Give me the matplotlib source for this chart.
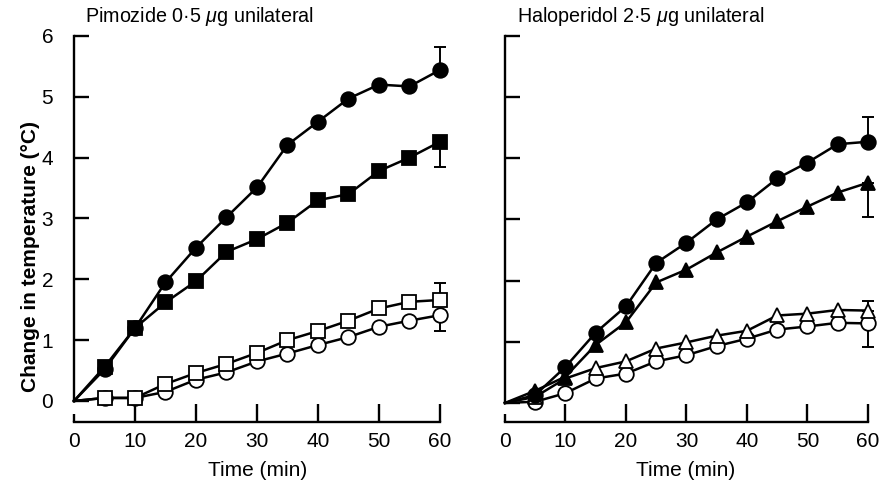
import matplotlib
matplotlib.use("Agg")
import matplotlib.pyplot as plt

plt.rcParams['font.family'] = ['Liberation Sans', 'DejaVu Sans']
plt.rcParams['mathtext.fontset'] = 'custom'
plt.rcParams['mathtext.rm'] = 'Liberation Sans'
plt.rcParams['mathtext.it'] = 'Liberation Sans:italic'

# ---- data ----
time = [0, 5, 10, 15, 20, 25, 30, 35, 40, 45, 50, 55, 60]
x_ticks = [0, 10, 20, 30, 40, 50, 60]
y_ticks = [0, 1, 2, 3, 4, 5, 6]

# Pimozide panel
pim_filled_circle = [0, 0.52, 1.20, 1.95, 2.52, 3.02, 3.51, 4.21, 4.59, 4.97, 5.20, 5.17, 5.44]
pim_filled_square = [0, 0.56, 1.20, 1.62, 1.97, 2.45, 2.66, 2.93, 3.30, 3.40, 3.78, 4.00, 4.26]
pim_open_square = [0, 0.05, 0.05, 0.28, 0.46, 0.61, 0.79, 1.00, 1.15, 1.32, 1.52, 1.63, 1.66]
pim_open_circle = [0, 0.05, 0.05, 0.15, 0.35, 0.47, 0.65, 0.78, 0.92, 1.05, 1.22, 1.32, 1.41]
pim_err = {'fc': (0.0, 0.38), 'fs': (0.41, 0.0), 'os': (0.0, 0.28), 'oc': (0.26, 0.0)}

# Haloperidol panel
hal_filled_circle = [0, 0.13, 0.59, 1.15, 1.58, 2.29, 2.62, 3.00, 3.28, 3.67, 3.93, 4.23, 4.27]
hal_filled_triangle = [0, 0.20, 0.43, 0.95, 1.32, 1.97, 2.18, 2.46, 2.72, 2.97, 3.21, 3.44, 3.60]
hal_open_triangle = [0, 0.10, 0.40, 0.57, 0.68, 0.89, 0.99, 1.10, 1.18, 1.43, 1.46, 1.52, 1.51]
hal_open_circle = [0, 0.02, 0.16, 0.40, 0.48, 0.68, 0.78, 0.93, 1.05, 1.20, 1.25, 1.31, 1.30]
hal_err = {'fc': (0.0, 0.40), 'ft': (0.56, 0.0), 'ot': (0.0, 0.16), 'oc': (0.38, 0.0)}

fig = plt.figure(figsize=(8.81, 4.92), dpi=100)
axL = fig.add_axes([0.084, 0.185, 0.4154, 0.742])
axR = fig.add_axes([0.5732, 0.181, 0.412, 0.746])

LW = 1.8
SIZES = {'o': 10.5, 's': 9.6, '^': 10.5}

def series(ax, y, marker, filled, err):
    face = 'black' if filled else 'white'
    ax.plot(time, y, color='black', lw=LW, marker=marker, ms=SIZES[marker],
            mfc=face, mec='black', mew=1.3, markevery=list(range(1, len(time))),
            clip_on=False, zorder=4 if filled else 3)
    lo, hi = err
    ax.errorbar([time[-1]], [y[-1]], yerr=[[lo], [hi]], fmt='none',
                ecolor='black', elinewidth=1.4, capsize=4.5, capthick=1.4,
                clip_on=False, zorder=2)

series(axL, pim_open_circle, 'o', False, pim_err['oc'])
series(axL, pim_open_square, 's', False, pim_err['os'])
series(axL, pim_filled_square, 's', True, pim_err['fs'])
series(axL, pim_filled_circle, 'o', True, pim_err['fc'])

series(axR, hal_open_circle, 'o', False, hal_err['oc'])
series(axR, hal_open_triangle, '^', False, hal_err['ot'])
series(axR, hal_filled_triangle, '^', True, hal_err['ft'])
series(axR, hal_filled_circle, 'o', True, hal_err['fc'])

FS = 15
for ax, off in ((axL, 15.0), (axR, 13.8)):
    ax.set_xlim(0, 60)
    ax.set_ylim(0, 6)
    ax.spines['top'].set_visible(False)
    ax.spines['right'].set_visible(False)
    ax.spines['bottom'].set_position(('outward', off))
    ax.spines['left'].set_linewidth(1.7)
    ax.spines['bottom'].set_linewidth(1.7)
    ax.spines['left'].set_bounds(0, 6)
    ax.spines['bottom'].set_bounds(0, 60)
    ax.set_xticks(x_ticks[1:])
    ax.set_xticks([x_ticks[0]], minor=True)
    ax.set_yticks(y_ticks)
    ax.tick_params(axis='x', which='major', direction='in', length=13, width=1.7,
                   pad=7, labelsize=FS)
    ax.tick_params(axis='x', which='minor', direction='in', length=6, width=1.7,
                   pad=7, labelsize=FS)
    ax.tick_params(axis='y', direction='in', length=11, width=1.7, pad=15,
                   labelsize=FS)
    ax.set_xticklabels([str(v) for v in x_ticks[1:]])
    ax.set_xticklabels([str(x_ticks[0])], minor=True)

axL.set_yticklabels([str(v) for v in y_ticks])
axR.set_yticklabels([])

fig.text(258 / 881, 1 - 470 / 492, 'Time (min)', ha='center', va='center', fontsize=FS)
fig.text(686 / 881, 1 - 470 / 492, 'Time (min)', ha='center', va='center', fontsize=FS)
fig.text(31 / 881, 1 - 256 / 492, 'Change in temperature (°C)', ha='center', va='center',
         rotation=90, fontsize=15, fontweight='bold')
fig.text(85 / 881, 1 - 17 / 492, r'Pimozide 0·5 $\mu$g unilateral', ha='left', va='center',
         fontsize=14.2)
fig.text(517 / 881, 1 - 17 / 492, r'Haloperidol 2·5 $\mu$g unilateral', ha='left', va='center',
         fontsize=14.2)

fig.savefig('out.png', dpi=100)
